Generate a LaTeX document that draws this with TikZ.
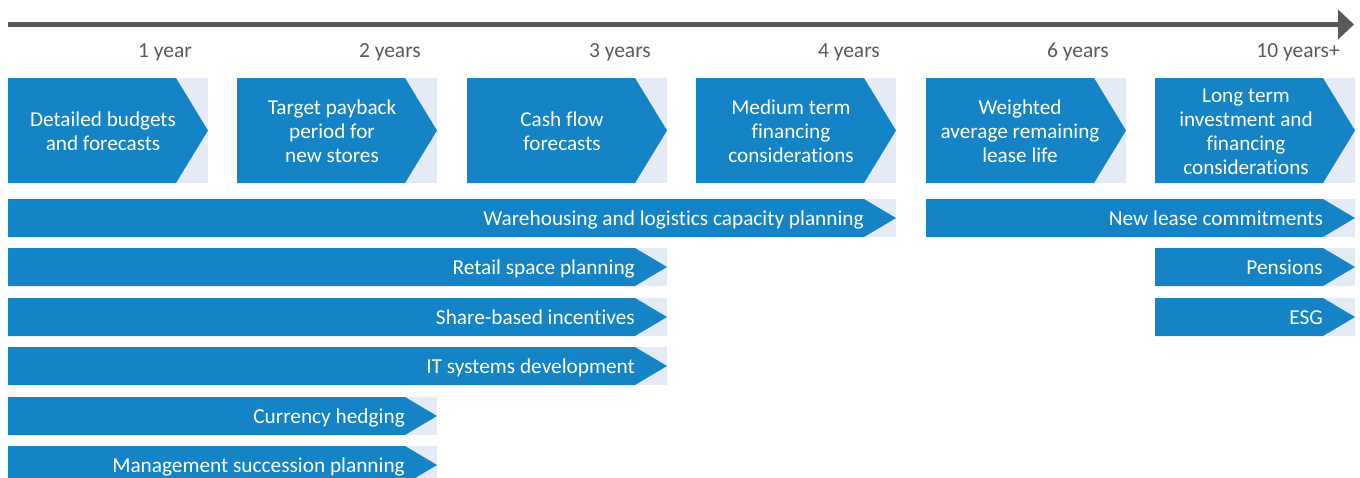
\documentclass[tikz,border=0pt]{standalone}
\usepackage{fontspec}
\setmainfont{Carlito}[Ligatures=NoCommon]
\usetikzlibrary{arrows.meta}
\definecolor{barblue}{RGB}{20,132,198}
\definecolor{paleblue}{RGB}{228,234,246}
\definecolor{axisgray}{RGB}{89,89,89}
\tikzset{
  timeline/.style={line width=5pt, draw=axisgray, -{Triangle[length=16pt,width=29pt]}},
  yearlabel/.style={anchor=base east, inner sep=0pt, text=axisgray, font=\fontsize{21.5}{24}\selectfont},
  boxtext/.style={anchor=center, inner sep=0pt, align=center, text=white, font=\fontsize{21.2}{23.8}\selectfont},
  bartext/.style={anchor=base east, inner sep=0pt, text=white, font=\fontsize{21.3}{24}\selectfont},
}
% chevron: pale backing rectangle with a blue pointed band
% #1 left, #2 right, #3 top, #4 bottom
\newcommand\chevronband[4]{%
  \fill[paleblue] (#1,#3) rectangle (#2,#4);
  \fill[barblue] (#1,#3) -- ({#2-32},#3) -- (#2,{(#3+#4)/2}) -- ({#2-32},#4) -- (#1,#4) -- cycle;
}
% one strut-bounded line of box text
\newcommand\bl[1]{\strut#1}
\begin{document}
\begin{tikzpicture}[x=1pt,y=-1pt]
\useasboundingbox (0,0) rectangle (1360,477);
\clip (0,0) rectangle (1360,477);

% time axis
\coordinate (t0) at (8,24.5);
\coordinate (t1) at (1354,24.5);
\draw[timeline] (t0) -- (t1);

% year markers
\node[yearlabel] (y1)  at (192,57)  {1 year};
\node[yearlabel] (y2)  at (421,57)  {2 years};
\node[yearlabel] (y3)  at (651,57)  {3 years};
\node[yearlabel] (y4)  at (880,57)  {4 years};
\node[yearlabel] (y6)  at (1109,57) {6 years};
\node[yearlabel] (y10) at (1340,57) {10 years+};

% horizon boxes
\chevronband{8}{208}{78}{183}
\chevronband{237}{437}{78}{183}
\chevronband{467}{667}{78}{183}
\chevronband{696}{896}{78}{183}
\chevronband{926}{1126}{78}{183}
\chevronband{1155}{1355}{78}{183}
\node[boxtext] (b1) at (103,133.7)  {\bl{Detailed budgets}\\\bl{and forecasts}};
\node[boxtext] (b2) at (332,133.7)  {\bl{Target payback}\\\bl{period for}\\\bl{new stores}};
\node[boxtext] (b3) at (562,133.7)  {\bl{Cash flow}\\\bl{forecasts}};
\node[boxtext] (b4) at (791,133.7)  {\bl{Medium term}\\\bl{financing}\\\bl{considerations}};
\node[boxtext] (b5) at (1020,133.7) {\bl{Weighted}\\\bl{average remaining}\\\bl{lease life}};
\node[boxtext] (b6) at (1246,133.7) {\bl{Long term}\\\bl{investment and}\\\bl{financing}\\\bl{considerations}};

% planning bands
\chevronband{8}{896}{199}{237}
\node[bartext] (r1) at (864,225) {Warehousing and logistics capacity planning};
\chevronband{926}{1355}{199}{237}
\node[bartext] (r1b) at (1323,225) {New lease commitments};

\chevronband{8}{667}{248}{286}
\node[bartext] (r2) at (635,274) {Retail space planning};
\chevronband{1155}{1355}{248}{286}
\node[bartext] (r2b) at (1323,274) {Pensions};

\chevronband{8}{667}{298}{336}
\node[bartext] (r3) at (635,324) {Share-based incentives};
\chevronband{1155}{1355}{298}{336}
\node[bartext] (r3b) at (1323,324) {ESG};

\chevronband{8}{667}{347}{385}
\node[bartext] (r4) at (635,373) {IT systems development};

\chevronband{8}{437}{397}{435}
\node[bartext] (r5) at (405,423) {Currency hedging};

\chevronband{8}{437}{446}{484}
\node[bartext] (r6) at (405,472) {Management succession planning};
\end{tikzpicture}
\end{document}
